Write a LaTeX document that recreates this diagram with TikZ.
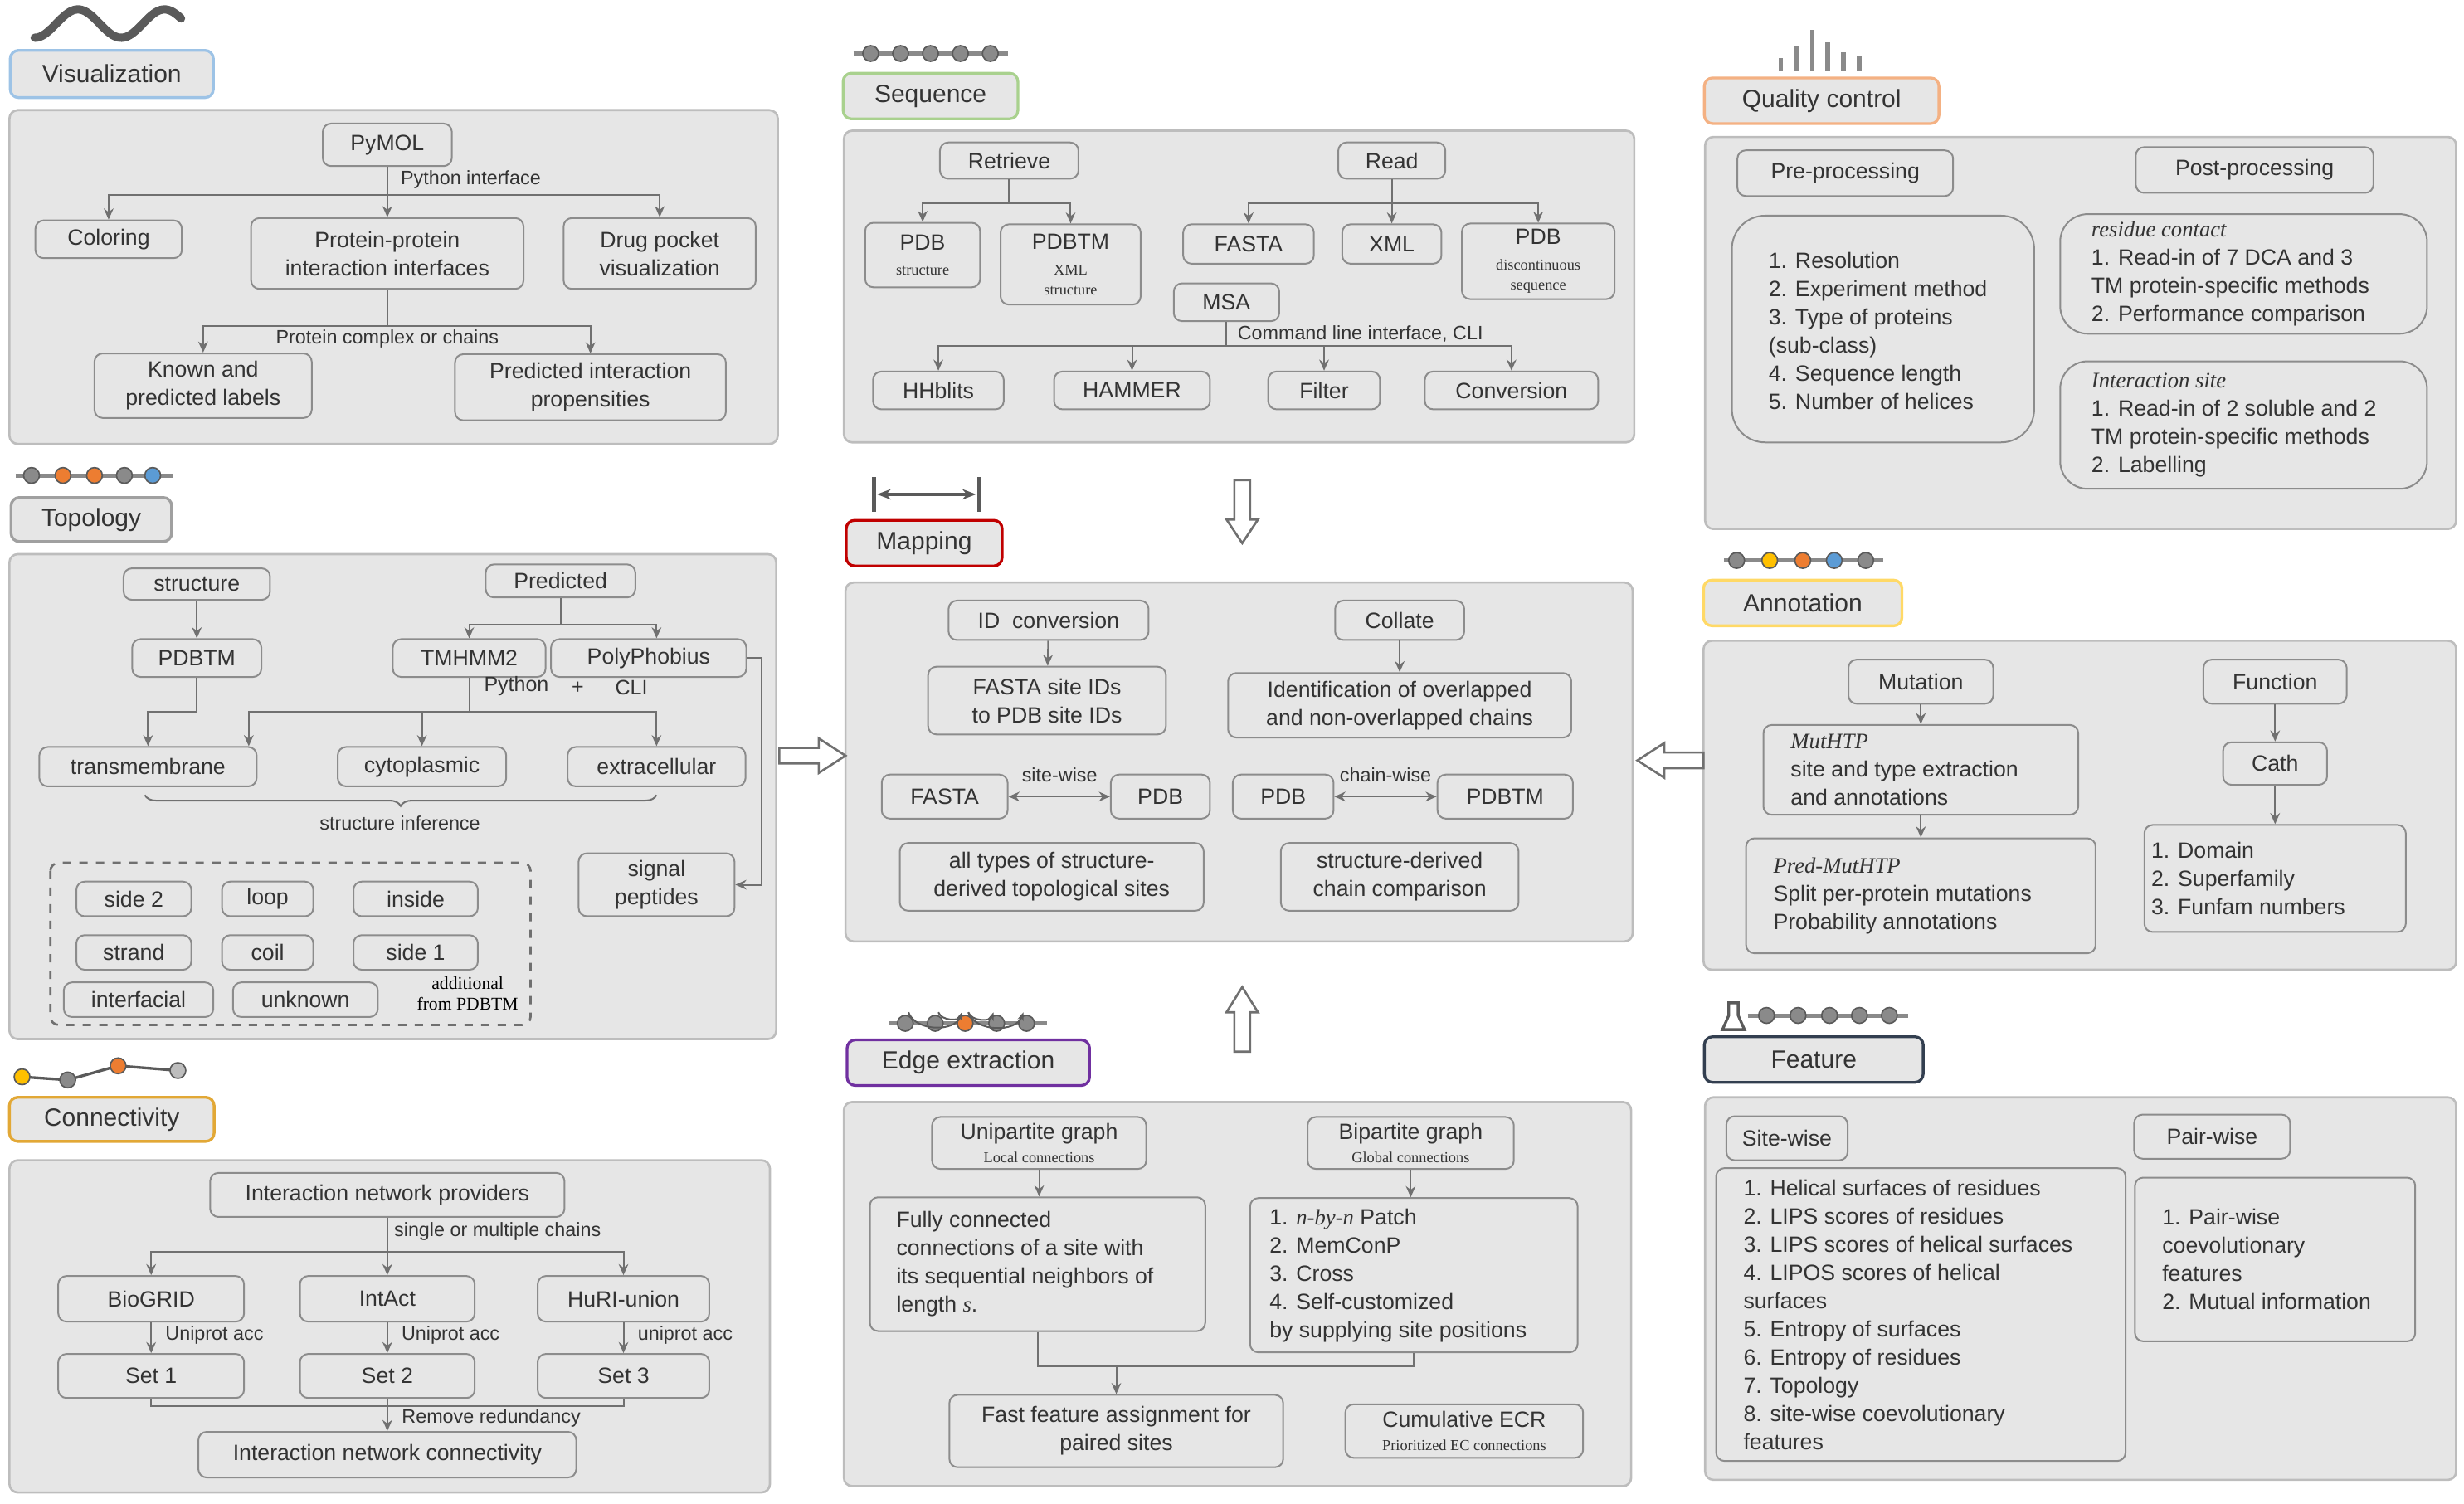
\documentclass[tikz,border=0pt]{standalone}
\usepackage{fontspec}
\setmainfont{Liberation Sans}
\newfontfamily\srf{Liberation Serif}
\usetikzlibrary{arrows.meta,decorations.pathreplacing}
\definecolor{panelgray}{HTML}{E6E6E6}
\definecolor{framegray}{HTML}{BDBDBD}
\definecolor{boxgray}{HTML}{8C8C8C}
\definecolor{linegray}{HTML}{707070}
\definecolor{txtgray}{HTML}{333333}
\definecolor{icondark}{HTML}{5A5A5A}
\definecolor{dotgray}{HTML}{8A8A8A}
\definecolor{dotorange}{HTML}{ED7D31}
\definecolor{dotblue}{HTML}{5B9BD5}
\definecolor{dotyellow}{HTML}{FFC000}
\definecolor{visblue}{HTML}{9DC3E6}
\definecolor{seqgreen}{HTML}{A9D18E}
\definecolor{qcorange}{HTML}{F4B183}
\definecolor{topgray}{HTML}{A0A0A0}
\definecolor{mapred}{HTML}{C00000}
\definecolor{annyellow}{HTML}{FFD966}
\definecolor{congold}{HTML}{E2A836}
\definecolor{edgepurple}{HTML}{7030A0}
\definecolor{featnavy}{HTML}{333F50}
\tikzset{
  panel/.style={draw=framegray, fill=panelgray, rounded corners=3pt, line width=0.8pt},
  sz/.style 2 args={minimum width=#1*0.02cm, minimum height=#2*0.02cm},
  tag/.style={draw=#1, fill=panelgray, rounded corners=3pt, line width=1pt,
    font=\fontsize{9}{11}\selectfont, text=txtgray, inner sep=1pt},
  bx/.style={draw=boxgray, rounded corners=3pt, line width=0.6pt, align=center,
    inner sep=1pt, text=txtgray},
  txt/.style={align=left, inner sep=0pt, text=txtgray},
  arr/.style={-{Stealth[length=4pt,width=3.5pt]}, draw=linegray, line width=0.6pt},
  darr/.style={{Stealth[length=4pt,width=3.5pt]}-{Stealth[length=4pt,width=3.5pt]}, draw=linegray, line width=0.6pt},
  ln/.style={draw=linegray, line width=0.6pt},
  lbl/.style={font=\fontsize{7}{8}\selectfont, text=txtgray, inner sep=1pt},
  tiny/.style={font=\srf\fontsize{5.5}{6}\selectfont},
  hollow/.style={draw=linegray, fill=white, line width=0.8pt},
  dot/.style={draw=icondark, line width=0.5pt, fill=#1}
}
\begin{document}
\begin{tikzpicture}[x=0.02cm, y=-0.02cm, font=\fontsize{8}{10.2}\selectfont]
\useasboundingbox (0,0) rectangle (1565,955);
% panels
\draw[panel] (6,70) rectangle (494,282);
\draw[panel] (536,83) rectangle (1038,281);
\draw[panel] (1083,87) rectangle (1560,336);
\draw[panel] (6,352) rectangle (493,660);
\draw[panel] (537,370) rectangle (1037,598);
\draw[panel] (1082,407) rectangle (1560,616);
\draw[panel] (6,737) rectangle (489,948);
\draw[panel] (536,700) rectangle (1036,944);
\draw[panel] (1083,697) rectangle (1560,940);
% tags
\node[tag=visblue, sz={129}{30}] (tvis) at (71,47) {Visualization};
\node[tag=seqgreen, sz={111}{29}] (tseq) at (591,61) {Sequence};
\node[tag=qcorange, sz={149}{29}] (tqc) at (1157,64) {Quality control};
\node[tag=topgray, sz={102}{28}] (ttop) at (58,330) {Topology};
\node[tag=mapred, sz={99}{29}] (tmap) at (587,345) {Mapping};
\node[tag=annyellow, sz={126}{29}] (tann) at (1145,383) {Annotation};
\node[tag=congold, sz={130}{28}] (tcon) at (71,711) {Connectivity};
\node[tag=edgepurple, sz={154}{29}] (tedge) at (615,675) {Edge extraction};
\node[tag=featnavy, sz={139}{29}] (tfeat) at (1152,673) {Feature};
% icons
\draw[line width=3pt, icondark, line cap=round] plot[domain=22:115, samples=80] (\x,{15+9*cos((\x-22)/55*360)});
\draw[line width=1.5pt, dotgray] (542,34) -- (640,34);
\foreach \x in {553,572,591,610,629} \fill[dot=dotgray] (\x,34) circle (5);
\foreach \x/\h in {1131/8,1141/16,1151/26,1161/18,1171/12,1181/9} \fill[dotgray] (\x-1.5,45) rectangle (\x+1.5,45-\h);
\draw[line width=1.5pt, dotgray] (10,302) -- (110,302);
\foreach \x/\c in {20/dotgray,40/dotorange,60/dotorange,79/dotgray,97/dotblue} \fill[dot=\c] (\x,302) circle (5);
\draw[line width=1.5pt, icondark] (555,303) -- (555,325) (622,303) -- (622,325);
\draw[line width=1pt, icondark, {Stealth[length=5pt]}-{Stealth[length=5pt]}] (557,314) -- (620,314);
\draw[line width=1.5pt, dotgray] (1095,356) -- (1196,356);
\foreach \x/\c in {1103/dotgray,1124/dotyellow,1145/dotorange,1165/dotblue,1185/dotgray} \fill[dot=\c] (\x,356) circle (5);
\draw[line width=1pt, icondark] (14,684) -- (43,686) -- (75,677) -- (113,680);
\foreach \x/\y/\c in {14/684/dotyellow,43/686/dotgray,75/677/dotorange,113/680/framegray} \fill[dot=\c] (\x,\y) circle (5);
\draw[line width=1.5pt, dotgray] (565,650) -- (665,650);
\foreach \x/\c in {575/dotgray,594/dotgray,613/dotorange,633/dotgray,652/dotgray} \fill[dot=\c] (\x,650) circle (5);
\foreach \a/\b in {577/611,596/611,615/631,615/650} \draw[line width=0.6pt, icondark, -{Stealth[length=3pt]}] (\a,643) to[out=-70,in=-110] (\b,643);
\draw[line width=1.5pt, dotgray] (1110,645) -- (1212,645);
\foreach \x in {1122,1142,1162,1181,1200} \fill[dot=dotgray] (\x,645) circle (5);
\draw[line width=1pt, icondark, fill=white] (1098,637) -- (1098,645) -- (1094,654) -- (1108,654) -- (1104,645) -- (1104,637) -- cycle;
% big arrows
\draw[hollow] (784,305) -- (794,305) -- (794,330) -- (799,330) -- (789,345) -- (779,330) -- (784,330) -- cycle;
\draw[hollow] (789,627) -- (799,643) -- (794,643) -- (794,668) -- (784,668) -- (784,643) -- (779,643) -- cycle;
\draw[hollow] (495,475) -- (520,475) -- (520,469) -- (537,480) -- (520,491) -- (520,485) -- (495,485) -- cycle;
\draw[hollow] (1082,478) -- (1057,478) -- (1057,472) -- (1040,483) -- (1057,494) -- (1057,488) -- (1082,488) -- cycle;

% Visualization
\node[bx, sz={82}{27}] (pymol) at (246,92) {PyMOL};
\node[bx, sz={93}{24}] (coloring) at (69,152) {Coloring};
\node[bx, sz={173}{45}] (ppi) at (246,161) {Protein-protein\\interaction interfaces};
\node[bx, sz={122}{45}] (drug) at (419,161) {Drug pocket\\visualization};
\node[bx, sz={138}{41}] (known) at (129,245) {Known and\\predicted labels};
\node[bx, sz={172}{42}] (predint) at (375,246) {Predicted interaction\\propensities};
\coordinate (vj1) at (246,124);
\coordinate (vj2) at (246,207);
\draw[ln] (pymol) -- (vj1);
\draw[arr] (vj1) -| (coloring);
\draw[arr] (vj1) -- (ppi);
\draw[arr] (vj1) -| (drug);
\draw[ln] (ppi) -- (vj2);
\draw[arr] (vj2) -| (known);
\draw[arr] (vj2) -| (predint);
\node[lbl] at (299,114) {Python interface};
\node[lbl] at (246,215) {Protein complex or chains};

% Sequence
\node[bx, sz={88}{23}] (retrieve) at (641,102) {Retrieve};
\node[bx, sz={68}{23}] (read) at (884,102) {Read};
\node[bx, sz={73}{41}] (pdbs) at (586,162) {PDB\\[-1pt]{\tikzset{}\srf\fontsize{5.5}{6}\selectfont structure}};
\node[bx, sz={89}{51}] (pdbtms) at (680,168) {PDBTM\\[-1pt]{\srf\fontsize{5.5}{6}\selectfont XML}\\[-3pt]{\srf\fontsize{5.5}{6}\selectfont structure}};
\node[bx, sz={83}{25}] (fasta) at (793,155) {FASTA};
\node[bx, sz={63}{25}] (xml) at (884,155) {XML};
\node[bx, sz={97}{48}] (pdbdisc) at (977,166) {PDB\\[-1pt]{\srf\fontsize{5.5}{6}\selectfont discontinuous}\\[-3pt]{\srf\fontsize{5.5}{6}\selectfont sequence}};
\node[bx, sz={67}{24}] (msa) at (779,192) {MSA};
\node[bx, sz={83}{24}] (hhblits) at (596,248) {HHblits};
\node[bx, sz={99}{24}] (hammer) at (719,248) {HAMMER};
\node[bx, sz={71}{24}] (filter) at (841,248) {Filter};
\node[bx, sz={110}{24}] (conversion) at (960,248) {Conversion};
\coordinate (sj1) at (641,129);
\coordinate (sj2) at (884,129);
\coordinate (sj3) at (779,220);
\draw[ln] (retrieve) -- (sj1);
\draw[arr] (sj1) -| (pdbs);
\draw[arr] (sj1) -| (pdbtms);
\draw[ln] (read) -- (sj2);
\draw[arr] (sj2) -| (fasta);
\draw[arr] (sj2) -- (xml);
\draw[arr] (sj2) -| (pdbdisc);
\draw[ln] (msa) -- (sj3);
\draw[arr] (sj3) -| (hhblits);
\draw[arr] (sj3) -| (hammer);
\draw[arr] (sj3) -| (filter);
\draw[arr] (sj3) -| (conversion);
\node[lbl] at (864,212) {Command line interface, CLI};

% Quality control
\node[bx, sz={137}{29}] (pre) at (1172,110) {Pre-processing};
\node[bx, sz={151}{29}] (post) at (1432,108) {Post-processing};
\node[bx, sz={192}{144}, rounded corners=12pt] (prelist) at (1196,209) {};
\node[txt, anchor=west] at (1123,210) {1. Resolution\\2. Experiment method\\3. Type of proteins\\(sub-class)\\4. Sequence length\\5. Number of helices};
\node[bx, sz={233}{76}, rounded corners=10pt] (rescon) at (1425,174) {};
\node[txt, anchor=west] at (1328,174) {{\srf\itshape residue contact}\\1. Read-in of 7 DCA and 3\\TM protein-specific methods\\2. Performance comparison};
\node[bx, sz={233}{81}, rounded corners=10pt] (intsite) at (1425,270) {};
\node[txt, anchor=west] at (1328,270) {{\srf\itshape Interaction site}\\1. Read-in of 2 soluble and 2\\TM protein-specific methods\\2. Labelling};

% Topology
\node[bx, sz={93}{20}] (structure) at (125,371) {structure};
\node[bx, sz={95}{21}] (predicted) at (356,369) {Predicted};
\node[bx, sz={82}{24}] (pdbtmt) at (125,418) {PDBTM};
\node[bx, sz={97}{24}] (tmhmm) at (298,418) {TMHMM2};
\node[bx, sz={124}{24}] (polyphobius) at (412,418) {PolyPhobius};
\node[bx, sz={138}{25}] (transmem) at (94,487) {transmembrane};
\node[bx, sz={107}{25}] (cyto) at (268,487) {cytoplasmic};
\node[bx, sz={113}{25}] (extra) at (417,487) {extracellular};
\node[bx, sz={99}{40}] (signal) at (417,562) {signal\\peptides};
\coordinate (tj1) at (356,397);
\coordinate (tj2) at (298,452);
\coordinate (tj3) at (125,452);
\draw[arr] (structure) -- (pdbtmt);
\draw[ln] (predicted) -- (tj1);
\draw[arr] (tj1) -| (tmhmm);
\draw[arr] (tj1) -| (polyphobius.north -| 417,0);
\draw[ln] (pdbtmt) -- (tj3);
\draw[arr] (tj3) -| (transmem);
\draw[ln] (tmhmm) -- (tj2);
\draw[arr] (tj2) -| (transmem.north -| 158,0);
\draw[arr] (tj2) -| (cyto);
\draw[arr] (tj2) -| (extra);
\draw[arr] (polyphobius.east) -- ++(9,0) |- (signal.east);
\node[lbl, font=\fontsize{7.5}{8}\selectfont] at (328,436) {Python};
\node[lbl, font=\fontsize{7.5}{8}\selectfont] at (367,437) {+};
\node[lbl, font=\fontsize{7.5}{8}\selectfont] at (401,437) {CLI};
\draw[ln, decorate, decoration={brace, mirror, amplitude=4pt}] (92,505) -- (417,505);
\node[lbl] at (254,523) {structure inference};
\draw[ln, dashed, rounded corners=3pt, line width=0.8pt] (32,548) rectangle (337,651);
\node[bx, sz={73}{22}] (side2) at (85,571) {side 2};
\node[bx, sz={58}{22}] (loop) at (170,571) {loop};
\node[bx, sz={79}{22}] (inside) at (264,571) {inside};
\node[bx, sz={73}{22}] (strand) at (85,605) {strand};
\node[bx, sz={58}{22}] (coil) at (170,605) {coil};
\node[bx, sz={79}{22}] (side1) at (264,605) {side 1};
\node[bx, sz={95}{22}] (interfacial) at (88,635) {interfacial};
\node[bx, sz={92}{22}] (unknown) at (194,635) {unknown};
\node[align=center, font=\srf\fontsize{6.5}{7.5}\selectfont, text=black] at (297,631) {additional\\from PDBTM};

% Mapping
\node[bx, sz={127}{25}] (idconv) at (666,394) {ID~~conversion};
\node[bx, sz={82}{25}] (collate) at (889,394) {Collate};
\node[bx, sz={151}{43}] (siteids) at (665,445) {FASTA site IDs\\to PDB site IDs};
\node[bx, sz={218}{41}] (identify) at (889,448) {Identification of overlapped\\and non-overlapped chains};
\node[bx, sz={80}{28}] (mfasta) at (600,506) {FASTA};
\node[bx, sz={63}{28}] (mpdb1) at (737,506) {PDB};
\node[bx, sz={64}{28}] (mpdb2) at (815,506) {PDB};
\node[bx, sz={86}{28}] (mpdbtm) at (956,506) {PDBTM};
\node[bx, sz={193}{43}] (alltypes) at (668,557) {all types of structure-\\derived topological sites};
\node[bx, sz={151}{43}] (chaincomp) at (889,557) {structure-derived\\chain comparison};
\draw[arr] (idconv) -- (siteids);
\draw[arr] (collate) -- (identify);
\draw[darr] (mfasta) -- (mpdb1);
\draw[darr] (mpdb2) -- (mpdbtm);
\node[lbl] at (673,492) {site-wise};
\node[lbl] at (880,492) {chain-wise};

% Annotation
\node[bx, sz={92}{28}] (mutation) at (1220,433) {Mutation};
\node[bx, sz={91}{28}] (function) at (1445,433) {Function};
\node[bx, sz={200}{57}] (muthtp) at (1220,489) {};
\node[txt, anchor=west] at (1137,489) {{\srf\itshape MutHTP}\\site and type extraction\\and annotations};
\node[bx, sz={222}{73}] (predmut) at (1220,569) {};
\node[txt, anchor=west] at (1126,569) {{\srf\itshape Pred-MutHTP}\\Split per-protein mutations\\Probability annotations};
\node[bx, sz={66}{27}] (cath) at (1445,485) {Cath};
\node[bx, sz={166}{68}] (cathlist) at (1445,558) {};
\node[txt, anchor=west] at (1366,558) {1. Domain\\2. Superfamily\\3. Funfam numbers};
\draw[arr] (mutation) -- (muthtp);
\draw[arr] (muthtp) -- (predmut);
\draw[arr] (function) -- (cath);
\draw[arr] (cath) -- (cathlist);

% Connectivity
\node[bx, sz={225}{28}] (providers) at (246,759) {Interaction network providers};
\node[bx, sz={118}{29}] (biogrid) at (96,825) {BioGRID};
\node[bx, sz={111}{29}] (intact) at (246,825) {IntAct};
\node[bx, sz={109}{29}] (huri) at (396,825) {HuRI-union};
\node[bx, sz={118}{28}] (set1) at (96,874) {Set 1};
\node[bx, sz={111}{28}] (set2) at (246,874) {Set 2};
\node[bx, sz={109}{28}] (set3) at (396,874) {Set 3};
\node[bx, sz={240}{29}] (netconn) at (246,924) {Interaction network connectivity};
\coordinate (cj1) at (246,795);
\coordinate (cj2) at (246,893);
\draw[ln] (providers) -- (cj1);
\draw[arr] (cj1) -| (biogrid);
\draw[arr] (cj1) -- (intact);
\draw[arr] (cj1) -| (huri);
\draw[arr] (biogrid) -- (set1);
\draw[arr] (intact) -- (set2);
\draw[arr] (huri) -- (set3);
\draw[ln] (set1) |- (cj2);
\draw[ln] (set3) |- (cj2);
\draw[arr] (set2) -- (netconn);
\node[lbl] at (316,782) {single or multiple chains};
\node[lbl, anchor=west] at (103,848) {Uniprot acc};
\node[lbl, anchor=west] at (253,848) {Uniprot acc};
\node[lbl, anchor=west] at (403,848) {uniprot acc};
\node[lbl] at (312,901) {Remove redundancy};

% Edge extraction
\node[bx, sz={136}{33}] (unipart) at (660,726) {Unipartite graph\\[-2pt]{\srf\fontsize{5.5}{6}\selectfont Local connections}};
\node[bx, sz={131}{33}] (bipart) at (896,726) {Bipartite graph\\[-2pt]{\srf\fontsize{5.5}{6}\selectfont Global connections}};
\node[bx, sz={213}{85}] (fully) at (659,803) {};
\node[txt, anchor=west] at (569,803) {Fully connected\\connections of a site with\\its sequential neighbors of\\length {\srf\itshape s}.};
\node[bx, sz={208}{98}] (bilist) at (898,810) {};
\node[txt, anchor=west] at (806,810) {1. {\srf\itshape n-by-n} Patch\\2. MemConP\\3. Cross\\4. Self-customized\\by supplying site positions};
\node[bx, sz={212}{46}] (fastfeat) at (709,909) {Fast feature assignment for\\paired sites};
\node[bx, sz={151}{34}] (cumecr) at (930,909) {Cumulative ECR\\[-2pt]{\srf\fontsize{5.5}{6}\selectfont Prioritized EC connections}};
\coordinate (ej) at (709,868);
\draw[arr] (unipart) -- (unipart |- fully.north);
\draw[arr] (bipart) -- (bipart |- bilist.north);
\draw[ln] (fully) |- (ej);
\draw[ln] (bilist) |- (ej);
\draw[arr] (ej) -- (fastfeat);

% Feature
\node[bx, sz={77}{28}] (sitewise) at (1135,723) {Site-wise};
\node[bx, sz={99}{28}] (pairwise) at (1405,722) {Pair-wise};
\node[bx, sz={260}{186}] (sitelist) at (1220,835) {};
\node[txt, anchor=west] at (1107,835) {1. Helical surfaces of residues\\2. LIPS scores of residues\\3. LIPS scores of helical surfaces\\4. LIPOS scores of helical\\surfaces\\5. Entropy of surfaces\\6. Entropy of residues\\7. Topology\\8. site-wise coevolutionary\\features};
\node[bx, sz={178}{104}] (pairlist) at (1445,800) {};
\node[txt, anchor=west] at (1373,800) {1. Pair-wise\\coevolutionary\\features\\2. Mutual information};
\end{tikzpicture}
\end{document}
